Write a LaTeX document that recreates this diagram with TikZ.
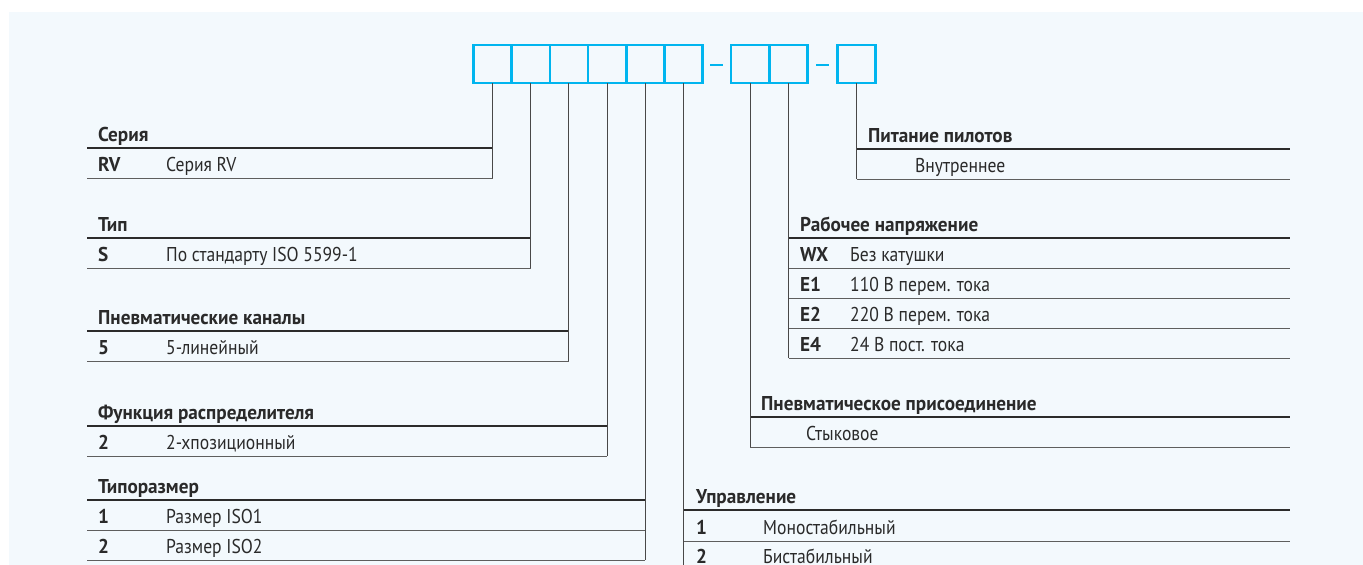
\documentclass[tikz,border=0pt]{standalone}
\usepackage{fontspec}
\setmainfont{PT Sans}
\newfontfamily\regf[FakeStretch=0.88]{PT Sans}
\newfontfamily\boldf[FakeStretch=0.96]{PT Sans}
\definecolor{bgc}{HTML}{F3F9FD}
\definecolor{cyanc}{HTML}{00B5EF}
\definecolor{txtc}{HTML}{2A2A2A}
\definecolor{rulec}{HTML}{2B2B2B}
\definecolor{thinc}{HTML}{5E5E5E}
\definecolor{connc}{HTML}{484848}
\newcommand\hdrfont{\boldf\fontsize{20}{23}\selectfont\bfseries}
\newcommand\cellfont{\regf\fontsize{20}{23}\selectfont}
\begin{document}
\begin{tikzpicture}[x=1pt,y=-1pt,
  codebox/.style={draw=cyanc, line width=2.6pt, minimum width=38.2pt, minimum height=38pt, inner sep=0pt, outer sep=0pt},
  hdr/.style={anchor=base west, inner sep=0pt, font=\hdrfont, text=txtc},
  cell/.style={anchor=base west, inner sep=0pt, font=\cellfont, text=txtc},
  code/.style={anchor=base west, inner sep=0pt, font=\hdrfont, text=txtc},
  headrule/.style={draw=rulec, line width=2.3pt},
  rowrule/.style={draw=thinc, line width=1pt},
  conn/.style={draw=connc, line width=1pt},
  dashmark/.style={draw=cyanc, line width=2.6pt}]
\useasboundingbox (0,0) rectangle (1363,565);
\clip (0,0) rectangle (1363,565);
\fill[bgc] (9,12) rectangle (1363,565);

% code boxes
\node[codebox] (b1) at (492.5,64) {};
\node[codebox] (b2) at (530.7,64) {};
\node[codebox] (b3) at (568.9,64) {};
\node[codebox] (b4) at (607.1,64) {};
\node[codebox] (b5) at (645.3,64) {};
\node[codebox] (b6) at (683.5,64) {};
\node[codebox] (b7) at (750,64) {};
\node[codebox] (b8) at (788.5,64) {};
\node[codebox] (b9) at (856.5,64) {};
\coordinate (d1a) at (710,65); \coordinate (d1b) at (723,65);
\coordinate (d2a) at (816,65); \coordinate (d2b) at (829,65);
\draw[dashmark] (d1a) -- (d1b);
\draw[dashmark] (d2a) -- (d2b);

% ---------- Серия ----------
\coordinate (serC) at (492.5,178);
\draw[headrule] (87,148) -- (492.5,148);
\draw[rowrule] (87,178) -- (serC);
\node[hdr] (serH) at (98,141) {Серия};
\node[code] (serK) at (98,171.5) {RV};
\node[cell] (serD) at (166,171.5) {Серия RV};
\draw[conn] (b1.south) -- (serC);

% ---------- Тип ----------
\coordinate (tipC) at (530.7,268);
\draw[headrule] (87,238) -- (530.7,238);
\draw[rowrule] (87,268) -- (tipC);
\node[hdr] (tipH) at (98,231) {Тип};
\node[code] (tipK) at (98,261.5) {S};
\node[cell] (tipD) at (166,261.5) {По стандарту ISO 5599-1};
\draw[conn] (b2.south) -- (tipC);

% ---------- Пневматические каналы ----------
\coordinate (pkC) at (568.9,361);
\draw[headrule] (87,331) -- (568.9,331);
\draw[rowrule] (87,361) -- (pkC);
\node[hdr] (pkH) at (98,324) {Пневматические каналы};
\node[code] (pkK) at (98,354.5) {5};
\node[cell] (pkD) at (166,354.5) {5-линейный};
\draw[conn] (b3.south) -- (pkC);

% ---------- Функция распределителя ----------
\coordinate (frC) at (607.1,456);
\draw[headrule] (87,426) -- (607.1,426);
\draw[rowrule] (87,456) -- (frC);
\node[hdr] (frH) at (98,419) {Функция распределителя};
\node[code] (frK) at (98,449.5) {2};
\node[cell] (frD) at (166,449.5) {2-хпозиционный};
\draw[conn] (b4.south) -- (frC);

% ---------- Типоразмер ----------
\coordinate (trC) at (645.3,560);
\draw[headrule] (87,500) -- (645.3,500);
\draw[rowrule] (87,530) -- (645.3,530);
\draw[rowrule] (87,560) -- (trC);
\node[hdr] (trH) at (98,493) {Типоразмер};
\node[code] (trK1) at (98,523.5) {1};
\node[cell] (trD1) at (166,523.5) {Размер ISO1};
\node[code] (trK2) at (98,553.5) {2};
\node[cell] (trD2) at (166,553.5) {Размер ISO2};
\draw[conn] (b5.south) -- (trC);

% ---------- Питание пилотов ----------
\coordinate (ppC) at (856.5,179);
\draw[headrule] (856.5,149) -- (1290,149);
\draw[rowrule] (ppC) -- (1290,179);
\node[hdr] (ppH) at (868,142) {Питание пилотов};
\node[cell] (ppD) at (915,172.5) {Внутреннее};
\draw[conn] (b9.south) -- (ppC);

% ---------- Рабочее напряжение ----------
\coordinate (rnC) at (788.5,358);
\draw[headrule] (788.5,238) -- (1290,238);
\draw[rowrule] (788.5,268) -- (1290,268);
\draw[rowrule] (788.5,298) -- (1290,298);
\draw[rowrule] (788.5,328) -- (1290,328);
\draw[rowrule] (rnC) -- (1290,358);
\node[hdr] (rnH) at (800,231) {Рабочее напряжение};
\node[code] (rnK1) at (800,261.5) {WX};
\node[cell] (rnD1) at (850,261.5) {Без катушки};
\node[code] (rnK2) at (800,291.5) {E1};
\node[cell] (rnD2) at (850,291.5) {110 В перем. тока};
\node[code] (rnK3) at (800,321.5) {E2};
\node[cell] (rnD3) at (850,321.5) {220 В перем. тока};
\node[code] (rnK4) at (800,351.5) {E4};
\node[cell] (rnD4) at (850,351.5) {24 В пост. тока};
\draw[conn] (b8.south) -- (rnC);

% ---------- Пневматическое присоединение ----------
\coordinate (paC) at (750,447);
\draw[headrule] (750,417) -- (1290,417);
\draw[rowrule] (paC) -- (1290,447);
\node[hdr] (paH) at (761,410) {Пневматическое присоединение};
\node[cell] (paD) at (806,440.5) {Стыковое};
\draw[conn] (b7.south) -- (paC);

% ---------- Управление ----------
\coordinate (upC) at (683.5,575);
\draw[headrule] (683.5,510) -- (1290,510);
\draw[rowrule] (683.5,541) -- (1290,541);
\draw[rowrule] (upC) -- (1290,571);
\node[hdr] (upH) at (696,503) {Управление};
\node[code] (upK1) at (696,534.5) {1};
\node[cell] (upD1) at (763,534.5) {Моностабильный};
\node[code] (upK2) at (696,563.5) {2};
\node[cell] (upD2) at (763,563.5) {Бистабильный};
\draw[conn] (b6.south) -- (upC);
\end{tikzpicture}
\end{document}
